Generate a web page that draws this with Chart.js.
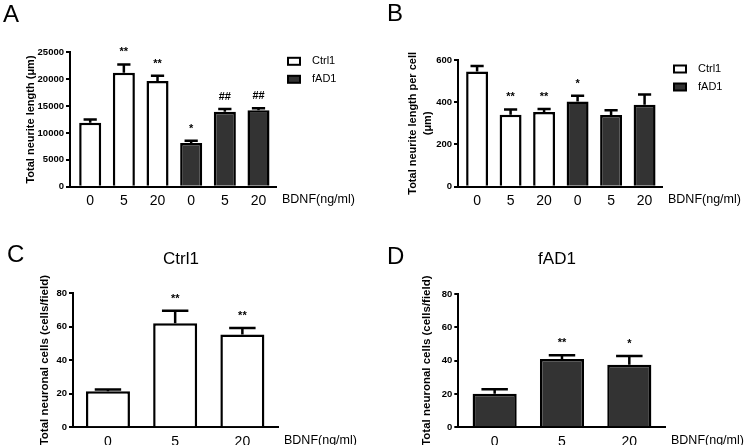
<!DOCTYPE html>
<html>
<head>
<meta charset="utf-8">
<script src="https://cdn.jsdelivr.net/npm/chart.js"></script>
<style>
html, body { margin: 0; padding: 0; background: #fff; }
#fig { position: relative; width: 744px; height: 445px; overflow: hidden; }
canvas { position: absolute; }
</style>
</head>
<body>
<div id="fig">
  <canvas id="chartA" width="372" height="222" style="left:0;top:0"></canvas>
  <canvas id="chartB" width="372" height="222" style="left:372px;top:0"></canvas>
  <canvas id="chartC" width="372" height="223" style="left:0;top:222px"></canvas>
  <canvas id="chartD" width="372" height="223" style="left:372px;top:222px"></canvas>
</div>
<script>
const FONT = "Arial, 'Liberation Sans', Helvetica, sans-serif";

// x tick labels (BDNF dose, ng/ml)
const doseLabels = ['0', '5', '20', '0', '5', '20'];

// A: total neurite length (um)
const lengthCtrl = [11900, 21200, 19650];
const lengthCtrlErr = [620, 1550, 1000];
const lengthCtrlSig = ['', '**', '**'];
const lengthFad = [8130, 13950, 14200];
const lengthFadErr = [430, 500, 380];
const lengthFadSig = ['*', '##', '##'];

// B: total neurite length per cell (um)
const perCellCtrl = [545, 341, 354];
const perCellCtrlErr = [27, 25, 14];
const perCellCtrlSig = ['', '**', '**'];
const perCellFad = [403, 340, 388];
const perCellFadErr = [28, 22, 49];
const perCellFadSig = ['*', '', ''];

// C / D: total neuronal cells (cells/field)
const cellsCtrl = [21.5, 62.0, 55.3];
const cellsCtrlErr = [1.0, 7.5, 3.8];
const cellsCtrlSig = ['', '**', '**'];
const cellsFad = [20.2, 41.0, 37.6];
const cellsFadErr = [2.6, 2.2, 5.2];
const cellsFadSig = ['', '**', '*'];

const WHITE = '#ffffff';
const DARK = '#333333';

function series(label, values, errors, marks, offset, fill) {
  return {
    label: label,
    data: values.map((v, i) => ({ x: i + offset, y: v })),
    errors: errors,
    marks: marks,
    backgroundColor: fill,
    borderColor: '#000',
    borderWidth: 2.5,
    borderSkipped: 'start',
    grouped: false,
    categoryPercentage: 1,
    barPercentage: 0.655
  };
}

const decor = {
  id: 'decor',
  afterDatasetsDraw(chart) {
    const ctx = chart.ctx;
    const y = chart.scales.y;
    ctx.save();
    chart.data.datasets.forEach((ds, i) => {
      chart.getDatasetMeta(i).data.forEach((bar, j) => {
        const top = y.getPixelForValue(ds.data[j].y + ds.errors[j]);
        const cap = bar.width * 0.6;
        ctx.strokeStyle = '#000';
        ctx.lineWidth = 2.5;
        ctx.beginPath();
        ctx.moveTo(bar.x, bar.y);
        ctx.lineTo(bar.x, top);
        ctx.moveTo(bar.x - cap / 2, top);
        ctx.lineTo(bar.x + cap / 2, top);
        ctx.stroke();
        if (ds.marks[j]) {
          ctx.fillStyle = '#000';
          ctx.font = 'bold 11px ' + FONT;
          ctx.textAlign = 'center';
          ctx.textBaseline = 'alphabetic';
          ctx.fillText(ds.marks[j], bar.x, top - 9);
        }
      });
    });
    ctx.restore();
  },
  afterDraw(chart) {
    const o = chart.options.plugins.decor;
    const ctx = chart.ctx;
    const area = chart.chartArea;
    ctx.save();
    ctx.fillStyle = '#000';
    ctx.textAlign = 'left';
    ctx.textBaseline = 'alphabetic';
    ctx.font = '24px ' + FONT;
    ctx.fillText(o.letter, o.letterX, o.letterY);

    ctx.font = '12.5px ' + FONT;
    ctx.textBaseline = 'middle';
    ctx.fillText('BDNF(ng/ml)', area.right + 6, area.bottom + 13);

    if (o.title) {
      ctx.font = '17px ' + FONT;
      ctx.textAlign = 'center';
      ctx.fillText(o.title, o.titleX, o.titleY);
    }

    if (o.legend) {
      ctx.font = '11px ' + FONT;
      ctx.textAlign = 'left';
      chart.data.datasets.forEach((ds, i) => {
        const bx = area.right + 12;
        const by = area.top + 9 + i * 18;
        ctx.fillStyle = ds.backgroundColor;
        ctx.fillRect(bx, by - 3.5, 12, 7);
        ctx.strokeStyle = '#000';
        ctx.lineWidth = 2;
        ctx.strokeRect(bx, by - 3.5, 12, 7);
        ctx.fillStyle = '#000';
        ctx.fillText(ds.label, bx + 24, by);
      });
    }
    ctx.restore();
  }
};

function makePanel(id, g) {
  const canvas = document.getElementById(id);
  const W = canvas.width, H = canvas.height;
  const labels = doseLabels.slice(0, g.count);
  return new Chart(canvas, {
    type: 'bar',
    data: { datasets: g.datasets },
    options: {
      responsive: false,
      animation: false,
      layout: { padding: { left: 0, top: g.top, right: W - g.right, bottom: 0 } },
      plugins: {
        legend: { display: false },
        tooltip: { enabled: false },
        decor: g.decor
      },
      scales: {
        x: {
          type: 'linear',
          offset: false,
          min: g.xMin,
          max: g.xMax,
          afterBuildTicks: s => { s.ticks = labels.map((_, i) => ({ value: i })); },
          afterFit: s => { s.height = H - g.bottom; },
          ticks: {
            callback: v => labels[v],
            font: { family: FONT, size: 14 },
            color: '#000',
            padding: 6,
            autoSkip: false,
            maxRotation: 0
          },
          grid: { display: false, offset: false, drawTicks: false, tickLength: 0 },
          border: { color: '#000', width: 2 }
        },
        y: {
          min: 0,
          max: g.yMax,
          afterFit: s => { s.width = g.left; },
          ticks: {
            stepSize: g.yStep,
            callback: v => String(v),
            font: { family: FONT, size: 9.5, weight: 'bold' },
            color: '#000',
            padding: 2
          },
          grid: { drawOnChartArea: false, color: '#000', tickColor: '#000', lineWidth: 2, tickWidth: 2, tickLength: 4 },
          border: { color: '#000', width: 2 },
          title: {
            display: true,
            text: g.yTitle,
            color: '#000',
            font: { family: FONT, size: g.yTitleSize, weight: 'bold', lineHeight: 1.35 },
            padding: { top: g.yTitlePad, bottom: 0 }
          }
        }
      }
    },
    plugins: [decor]
  });
}

makePanel('chartA', {
  count: 6, left: 70, right: 276, top: 52.3, bottom: 186.7, xMin: -0.6, xMax: 5.52,
  yMax: 25000, yStep: 5000,
  yTitle: 'Total neurite length (\u03bcm)', yTitleSize: 11, yTitlePad: 23.6,
  datasets: [
    series('Ctrl1', lengthCtrl, lengthCtrlErr, lengthCtrlSig, 0, WHITE),
    series('fAD1', lengthFad, lengthFadErr, lengthFadSig, 3, DARK)
  ],
  decor: { letter: 'A', letterX: 3, letterY: 22, legend: true }
});

makePanel('chartB', {
  count: 6, left: 86, right: 290, top: 60, bottom: 186.7, xMin: -0.57, xMax: 5.52,
  yMax: 600, yStep: 200,
  yTitle: ['Total neurite length per cell', '(\u03bcm)'], yTitleSize: 11, yTitlePad: 33.5,
  datasets: [
    series('Ctrl1', perCellCtrl, perCellCtrlErr, perCellCtrlSig, 0, WHITE),
    series('fAD1', perCellFad, perCellFadErr, perCellFadSig, 3, DARK)
  ],
  decor: { letter: 'B', letterX: 15, letterY: 21, legend: true }
});

makePanel('chartC', {
  count: 3, left: 73, right: 278, top: 71, bottom: 205.3, xMin: -0.52, xMax: 2.53,
  yMax: 80, yStep: 20,
  yTitle: 'Total neuronal cells (cells/field)', yTitleSize: 11.5, yTitlePad: 37,
  datasets: [
    series('Ctrl1', cellsCtrl, cellsCtrlErr, cellsCtrlSig, 0, WHITE)
  ],
  decor: { letter: 'C', letterX: 7, letterY: 40, title: 'Ctrl1', titleX: 181, titleY: 37, legend: false }
});

makePanel('chartD', {
  count: 3, left: 86.3, right: 293, top: 72, bottom: 205.3, xMin: -0.54, xMax: 2.53,
  yMax: 80, yStep: 20,
  yTitle: 'Total neuronal cells (cells/field)', yTitleSize: 11.5, yTitlePad: 47,
  datasets: [
    series('fAD1', cellsFad, cellsFadErr, cellsFadSig, 0, DARK)
  ],
  decor: { letter: 'D', letterX: 15, letterY: 42, title: 'fAD1', titleX: 185, titleY: 37, legend: false }
});
</script>
</body>
</html>
